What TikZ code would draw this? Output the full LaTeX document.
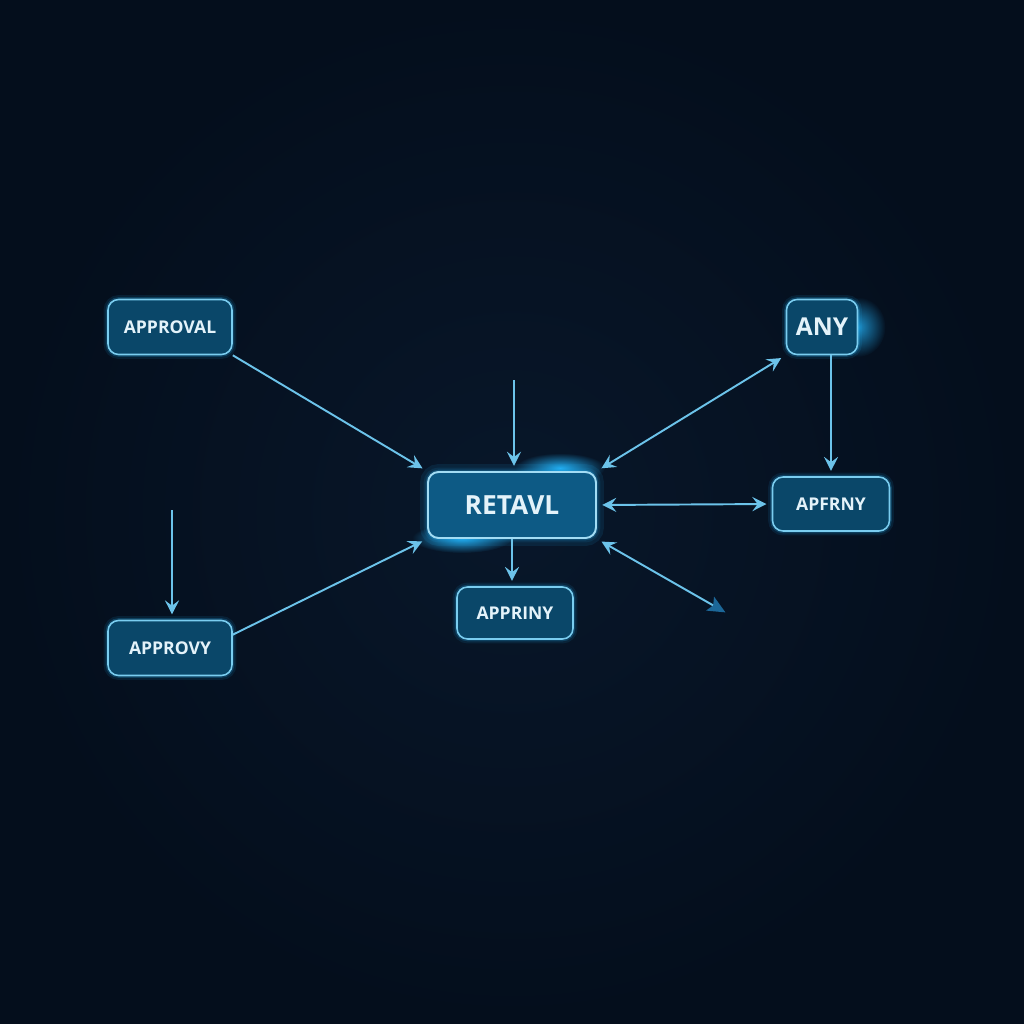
\documentclass[tikz,border=0pt]{standalone}
\usepackage{fontspec}
\setmainfont{Open Sans}
\usetikzlibrary{arrows.meta,positioning,calc,fadings}
\definecolor{night}   {HTML}{040E1C}
\definecolor{dusk}    {HTML}{08172A}
\definecolor{deepsea} {HTML}{0A4769}
\definecolor{coreblue}{HTML}{0D5A85}
\definecolor{iceline} {HTML}{7ACDF0}
\definecolor{wirecol} {HTML}{6CC3EA}
\definecolor{glowcol} {HTML}{22AEF2}
\definecolor{tipblue} {HTML}{1C6798}
\definecolor{paper}   {HTML}{E4F3FA}
\tikzfading[name=softspot, inner color=transparent!0, outer color=transparent!100]

\begin{document}
\begin{tikzpicture}[x=0.02cm,y=-0.02cm,
  box/.style={draw=iceline, fill=deepsea, rounded corners=6pt, line width=0.9pt,
    text=paper, inner sep=0pt, font=\bfseries\fontsize{10}{12}\selectfont,
    preaction={draw=glowcol, line width=5pt, opacity=0.10},
    preaction={draw=glowcol, line width=2.6pt, opacity=0.22}},
  hub/.style={box, fill=coreblue, draw=iceline!70!white, line width=1.1pt,
    font=\bfseries\fontsize{15}{17}\selectfont,
    preaction={draw=glowcol, line width=9pt, opacity=0.10}},
  wire/.style={draw=wirecol, line width=1.1pt, shorten >=3pt,
    -{Stealth[length=8pt,width=8pt,inset=3pt]}},
  both/.style={wire, shorten <=3pt,
    {Stealth[length=8pt,width=8pt,inset=3pt]}-{Stealth[length=8pt,width=8pt,inset=3pt]}}]

  % backdrop
  \useasboundingbox (0,0) rectangle (1024,1024);
  \fill[night] (0,0) rectangle (1024,1024);
  \shade[inner color=dusk, outer color=night] (0,0) rectangle (1024,1024);

  % glow spots
  \fill[glowcol, path fading=softspot] (560,468) ellipse [x radius=0.9cm, y radius=0.3cm];
  \fill[glowcol, path fading=softspot] (462,538) ellipse [x radius=1.0cm, y radius=0.3cm];
  \fill[glowcol, path fading=softspot, opacity=0.8] (858,327) ellipse [x radius=0.55cm, y radius=0.6cm];

  % boxes
  \node[box, minimum width=2.48cm, minimum height=1.10cm] (appr) at (170,327) {APPROVAL};
  \node[box, minimum width=2.48cm, minimum height=1.10cm] (appy) at (170,648) {APPROVY};
  \node[box, minimum width=2.32cm, minimum height=1.04cm] (apri) at (515,613) {APPRINY};
  \node[box, minimum width=2.34cm, minimum height=1.08cm] (apf)  at (831,504) {APFRNY};
  \node[box, minimum width=1.42cm, minimum height=1.10cm,
        font=\bfseries\fontsize{14}{16}\selectfont] (any) at (822,327) {ANY};
  \node[hub, minimum width=3.36cm, minimum height=1.32cm] (ret) at (512,505) {RETAVL};

  % loose ends
  \coordinate (topin)  at (514,380);
  \coordinate (leftin) at (172,510);
  \coordinate (outpt)  at (730,615);

  % connectors
  \draw[wire] (appr.south east) -- (ret.north west);
  \draw[wire] (topin) -- (topin |- ret.north);
  \draw[wire] (leftin) -- (leftin |- appy.north);
  \draw[wire] (appy.12) -- (ret.south west);
  \draw[wire] (ret.south) -- (ret.south |- apri.north);
  \draw[both] (ret.north east) -- (any.south west);
  \draw[wire] (any.south -| apf.north) -- (apf.north);
  \draw[both] (ret.east) -- (apf.west);
  \draw[wire, shorten <=3pt,
    {Stealth[length=8pt,width=8pt,inset=3pt]}-{Stealth[length=10pt,width=9pt,inset=2pt,color=tipblue]}]
    (ret.south east) -- (outpt);
\end{tikzpicture}
\end{document}
